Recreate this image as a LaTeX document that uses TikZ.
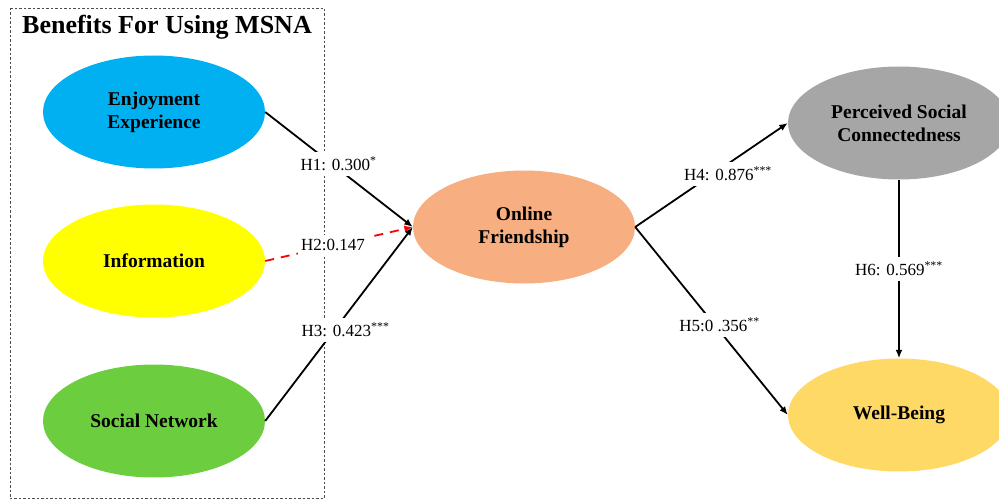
\documentclass[tikz,border=0pt]{standalone}
\usepackage{fontspec}
\setmainfont{Liberation Serif}
\usepackage{tikz}
\usetikzlibrary{shapes.geometric,arrows.meta}
\definecolor{enjoyblue}{RGB}{0,176,240}
\definecolor{infoyellow}{RGB}{255,255,0}
\definecolor{netgreen}{RGB}{108,206,62}
\definecolor{friendorange}{RGB}{247,174,129}
\definecolor{connectgray}{RGB}{166,166,166}
\definecolor{wellgold}{RGB}{255,217,102}
\begin{document}
\begin{tikzpicture}[x=1pt,y=-1pt,
		factor/.style={ellipse,minimum width=222pt,minimum height=113pt,inner sep=0pt,align=center,font=\fontsize{19.5}{23}\selectfont\bfseries},
		hyp/.style={line width=1.8pt,-{Latex[length=8.5pt,width=7pt]}},
		coef/.style={fill=white,text=black,inner xsep=3pt,inner ysep=5pt,font=\fontsize{17}{20}\selectfont}]
		\useasboundingbox (0,0) rectangle (999,500);
		\draw[gray!60!black,line width=0.8pt,dash pattern=on 2.5pt off 2pt] (10,8) rectangle (324,498.5);
		\node[anchor=base,font=\fontsize{26}{30}\selectfont\bfseries] (title) at (167,34) {Benefits For Using MSNA};
		\node[factor,fill=enjoyblue] (enjoy) at (154,112) {Enjoyment\\Experience};
		\node[factor,fill=infoyellow] (info) at (154,261) {Information};
		\node[factor,fill=netgreen] (network) at (154,421) {Social Network};
		\node[factor,fill=friendorange] (online) at (524,227) {Online\\Friendship};
		\node[factor,fill=connectgray] (perceived) at (899,123) {Perceived Social\\Connectedness};
		\node[factor,fill=wellgold] (wellbeing) at (899,415) {Well-Being};
		\draw[hyp] (enjoy.east) -- (online.west) node[coef,pos=.45,xshift=7pt] {H1: 0.300\textsuperscript{*}};
		\draw[hyp,red,dash pattern=on 9pt off 7pt] (info.east) -- (online.west) node[coef,pos=.46] {H2:0.147};
		\draw[hyp] (network.east) -- (online.west) node[coef,pos=.47,xshift=11pt] {H3: 0.423\textsuperscript{***}};
		\draw[hyp] (online.east) -- (perceived.west) node[coef,pos=.51,xshift=15pt] {H4: 0.876\textsuperscript{***}};
		\draw[hyp] (online.east) -- (wellbeing.west) node[coef,pos=.52,xshift=5pt] {H5:0 .356\textsuperscript{**}};
		\draw[hyp] (perceived.south) -- (wellbeing.north) node[coef,pos=.5] {H6: 0.569\textsuperscript{***}};
\end{tikzpicture}
\end{document}
